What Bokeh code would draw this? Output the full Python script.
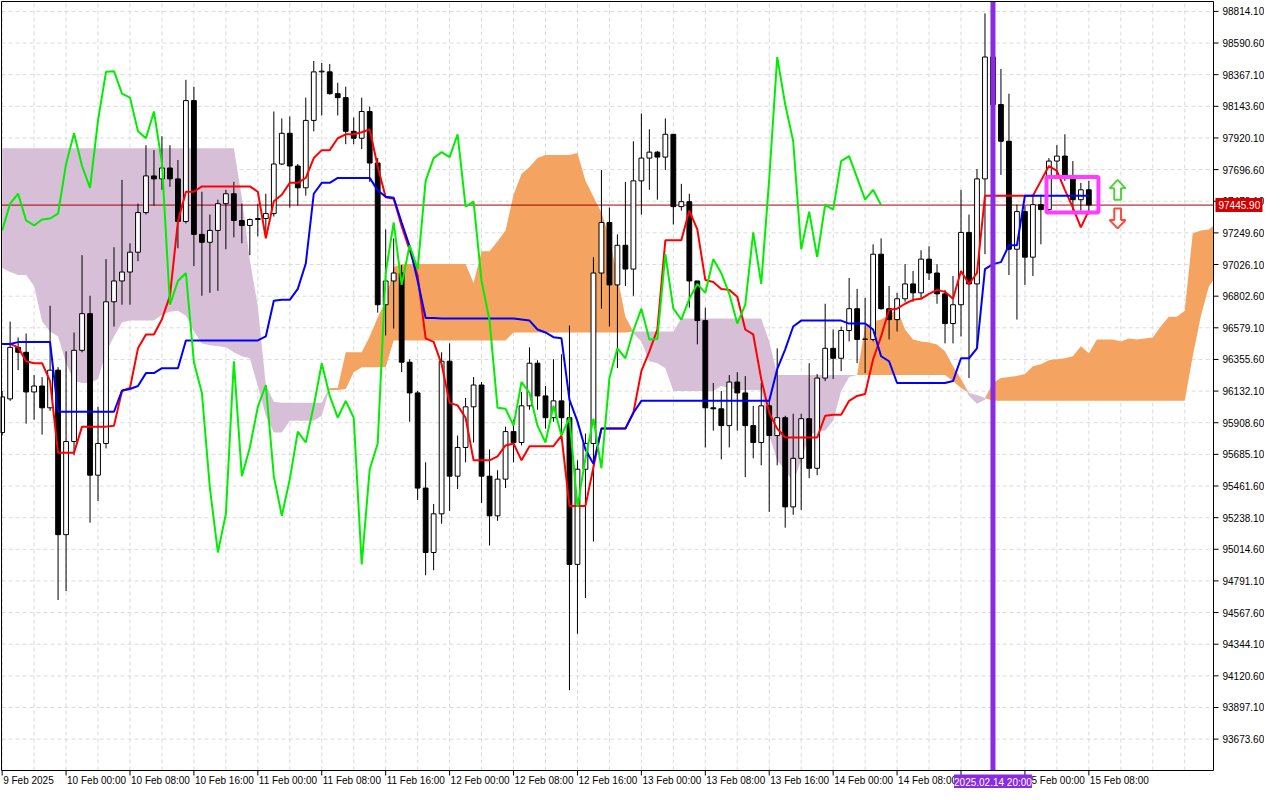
import numpy as np
from bokeh.plotting import figure
from bokeh.models import Range1d
from bokeh.core.properties import value
from bokeh.embed import file_html
from bokeh.resources import INLINE

# ---------------- data (BTCUSD H1, bar 0 = 9 Feb 2025 16:00) ----------------
opens = [95839, 96077, 96441, 96406, 96126, 96168, 96014, 96280, 95118, 95776,
         96420, 96679, 95538, 95762, 96763, 96910, 96973, 97113, 97393, 97652,
         97631, 97708, 97631, 97330, 98184, 97239, 97183, 97267, 97456, 97526,
         97337, 97302, 97344, 97351, 97386, 97736, 97953, 97722, 97568, 98044,
         98387, 98387, 98233, 98205, 97967, 97918, 98107, 97743, 96742, 96910,
         96966, 96336, 96119, 95447, 94992, 95265, 96343, 95531, 95734, 96021,
         96175, 95531, 95251, 95510, 95846, 95769, 96028, 96329, 96098, 95944,
         96063, 95944, 94908, 95580, 95762, 96966, 97323, 96882, 97162, 96994,
         97617, 97778, 97820, 97785, 97946, 97435, 97470, 96910, 96630, 96014,
         96007, 95888, 96196, 96119, 95888, 95769, 96028, 95818, 95944, 95314,
         95657, 95937, 95587, 96224, 96434, 96364, 96560, 96714, 96497, 96497,
         97099, 96714, 96637, 96784, 96889, 96826, 97064, 96966, 96819, 96609,
         96742, 97253, 96889, 97631, 98492, 98156, 97897, 97134, 97400, 97078,
         97449, 97414, 97757, 97792, 97638, 97484, 97554]
highs = [96133, 96623, 96511, 96539, 96245, 96231, 96735, 96301, 96413, 96546,
         97092, 96805, 96021, 97064, 97148, 97624, 97176, 97456, 97869, 97834,
         97932, 97869, 97764, 98331, 98282, 97540, 97379, 97484, 97554, 97610,
         97456, 97351, 97456, 97526, 98107, 98058, 98072, 97736, 98205, 98464,
         98450, 98443, 98310, 98282, 98065, 98205, 98142, 97778, 97274, 97211,
         97022, 96357, 96133, 95629, 95335, 96406, 96469, 95818, 96084, 96231,
         96196, 95720, 95573, 95881, 95930, 96126, 96441, 96350, 96168, 96357,
         96392, 96595, 95643, 95832, 97078, 97694, 97428, 97239, 97610, 97897,
         98093, 97981, 97827, 98058, 97946, 97596, 97526, 96910, 96721, 96189,
         96133, 96245, 96266, 96238, 96028, 96189, 96063, 96434, 95958, 95972,
         95972, 96329, 96252, 96749, 96567, 96588, 96931, 96854, 96791, 97169,
         97211, 96875, 96826, 97029, 96980, 97127, 97155, 97029, 96847, 96945,
         97554, 97379, 97701, 98800, 98688, 98408, 98233, 97449, 97442, 97519,
         97519, 97778, 97869, 97946, 97757, 97603, 97617]
lows = [95818, 96063, 96280, 95902, 95930, 95825, 95993, 94656, 94719, 95678,
        96406, 95202, 95356, 95727, 96588, 96742, 96742, 97050, 97379, 97442,
        97554, 97575, 97141, 97316, 97015, 96805, 96826, 96840, 97134, 97218,
        97176, 97092, 97225, 97232, 97365, 97729, 97428, 97442, 97512, 97967,
        98079, 98226, 98079, 97876, 97876, 97841, 97610, 96686, 96525, 96574,
        96266, 95916, 95363, 94831, 94866, 95195, 95286, 95440, 95629, 95769,
        95342, 95041, 95216, 95447, 95629, 95748, 96000, 96000, 95867, 95916,
        95790, 94019, 94418, 94670, 95069, 96714, 96588, 96294, 96875, 96805,
        97379, 97554, 97484, 97694, 97309, 97407, 96721, 96462, 95734, 95853,
        95650, 95734, 95853, 95524, 95657, 95608, 95279, 95608, 95167, 95258,
        95293, 95517, 95538, 96203, 96217, 96273, 96483, 96329, 96259, 96483,
        96707, 96497, 96553, 96763, 96763, 96784, 96917, 96749, 96469, 96469,
        96518, 96224, 96434, 97099, 98128, 97659, 96952, 96637, 96882, 96945,
        97169, 97400, 97652, 97617, 97407, 97407, 97379]
closes = [96091, 96441, 96406, 96126, 96168, 96014, 96280, 95118, 95776, 96420,
          96679, 95538, 95762, 96763, 96910, 96973, 97113, 97393, 97652, 97631,
          97708, 97631, 97330, 98184, 97239, 97183, 97267, 97456, 97526, 97337,
          97302, 97344, 97351, 97386, 97736, 97953, 97722, 97568, 98044, 98387,
          98392, 98233, 98205, 97967, 97918, 98107, 97743, 96742, 96910, 96966,
          96336, 96119, 95447, 94992, 95265, 96343, 95531, 95734, 96021, 96175,
          95531, 95251, 95510, 95846, 95769, 96028, 96329, 96098, 95944, 96063,
          95944, 94908, 95580, 95762, 96966, 97323, 96882, 97162, 96994, 97617,
          97778, 97820, 97785, 97946, 97435, 97470, 96910, 96630, 96014, 96007,
          95888, 96196, 96119, 95888, 95769, 96028, 95818, 95944, 95314, 95657,
          95937, 95587, 96224, 96434, 96364, 96560, 96714, 96497, 96500, 97099,
          96714, 96637, 96784, 96889, 96826, 97064, 96966, 96819, 96609, 96742,
          97253, 96889, 97631, 98492, 98156, 97897, 97134, 97400, 97078, 97449,
          97414, 97757, 97792, 97638, 97484, 97554, 97445.9]

tenkan = [96465, 96465, 96441, 96343, 96329, 96329, 96203, 95696, 95696, 95696,
          95881, 95881, 95881, 95881, 95888, 96133, 96154, 96434, 96532, 96532,
          96640, 96805, 97330, 97540, 97540, 97578, 97578, 97578, 97578, 97578,
          97578, 97578, 97540, 97211, 97473, 97519, 97603, 97603, 97638, 97778,
          97834, 97834, 97918, 97946, 97946, 97960, 97981, 97718, 97501, 97491,
          97297, 97129, 96948, 96504, 96480, 96322, 96049, 96031, 95944, 95643,
          95643, 95643, 95671, 95748, 95762, 95643, 95743, 95743, 95743, 95743,
          95818, 95321, 95321, 95321, 95594, 95867, 95867, 95867, 95867, 95979,
          96273, 96413, 96567, 97197, 97197, 97197, 97407, 97274, 96917, 96903,
          96854, 96847, 96798, 96567, 96532, 96217, 95979, 95867, 95804, 95804,
          95804, 95804, 95804, 95958, 95965, 95965, 96063, 96098, 96112, 96357,
          96518, 96707, 96714, 96749, 96777, 96784, 96819, 96847, 96833, 96784,
          96980, 96889, 96966, 97512, 97512, 97512, 97512, 97512, 97512, 97512,
          97617, 97722, 97687, 97554, 97428, 97288, 97407]
kijun = [96465, 96465, 96478, 96478, 96478, 96478, 96478, 95986, 95986, 95986,
         95986, 95986, 95986, 95986, 95986, 96136, 96147, 96168, 96259, 96259,
         96294, 96294, 96294, 96490, 96490, 96490, 96490, 96490, 96490, 96490,
         96490, 96490, 96490, 96518, 96770, 96777, 96777, 96854, 97033, 97526,
         97603, 97603, 97638, 97638, 97638, 97638, 97638, 97550, 97505, 97498,
         97323, 97155, 96912, 96648, 96648, 96644, 96644, 96644, 96644, 96644,
         96644, 96644, 96644, 96644, 96644, 96637, 96630, 96567, 96546, 96513,
         96505, 96070, 95918, 95720, 95618, 95867, 95867, 95867, 95867, 95979,
         96063, 96063, 96063, 96063, 96063, 96063, 96063, 96063, 96063, 96063,
         96063, 96063, 96063, 96063, 96063, 96063, 96063, 96287, 96427, 96588,
         96630, 96630, 96630, 96630, 96630, 96630, 96609, 96609, 96609, 96567,
         96378, 96343, 96189, 96189, 96189, 96189, 96189, 96189, 96189, 96203,
         96364, 96364, 96434, 96994, 97029, 97043, 97162, 97162, 97512, 97512,
         97512, 97512, 97512, 97512, 97512, 97512, 97512]
span_a = [97001, 96973, 96952, 96952, 96875, 96623, 96553, 96518, 96329, 96203,
          96189, 96189, 96217, 96406, 96518, 96616, 96630, 96630, 96630, 96630,
          96672, 96693, 96700, 96665, 96553, 96469, 96455, 96448, 96441, 96406,
          96378, 96364, 96168, 95958, 95839, 95839, 95923, 95923, 95923, 95923,
          95958, 96154, 96154, 96406, 96406, 96406, 96518, 96651, 96770, 97008,
          97029, 97029, 97029, 97029, 97029, 97029, 97029, 97029, 97029, 96896,
          97120, 97120, 97190, 97267, 97519, 97666, 97715, 97778, 97799, 97799,
          97799, 97799, 97813, 97617, 97505, 97393, 97218, 96938, 96658, 96539,
          96483, 96343, 96329, 96294, 96133, 96133, 96133, 96133, 96133, 96133,
          96168, 96154, 96140, 96140, 96140, 96140, 95818, 95643, 95573, 95489,
          95643, 95818, 95846, 95853, 95923, 96133, 96231, 96245, 96588, 96623,
          96637, 96672, 96714, 96567, 96497, 96483, 96476, 96462, 96413, 96308,
          96217, 96098, 96042, 96070, 96189, 96224, 96231, 96238, 96252, 96308,
          96322, 96350, 96357, 96364, 96378, 96448, 96399, 96497, 96497, 96497,
          96483, 96504, 96497, 96504, 96511, 96588, 96658, 96658, 96700, 97246,
          97267, 97274, 97316, 97344]
span_b = [97848, 97848, 97848, 97848, 97848, 97848, 97848, 97848, 97848, 97848,
          97848, 97848, 97848, 97848, 97848, 97848, 97848, 97848, 97848, 97848,
          97848, 97848, 97848, 97848, 97848, 97848, 97848, 97848, 97848, 97848,
          97498, 97057, 96728, 96175, 96056, 96049, 96049, 96049, 96049, 96049,
          96049, 96140, 96140, 96147, 96266, 96301, 96301, 96301, 96301, 96490,
          96490, 96490, 96490, 96490, 96490, 96490, 96490, 96490, 96490, 96490,
          96490, 96490, 96490, 96490, 96546, 96546, 96546, 96546, 96546, 96546,
          96546, 96546, 96546, 96546, 96546, 96546, 96546, 96546, 96546, 96553,
          96553, 96553, 96553, 96553, 96553, 96644, 96644, 96644, 96644, 96644,
          96644, 96644, 96644, 96644, 96644, 96644, 96483, 96245, 96245, 96245,
          96245, 96245, 96245, 96245, 96245, 96245, 96245, 96245, 96245, 96245,
          96245, 96245, 96245, 96245, 96245, 96245, 96245, 96245, 96245, 96203,
          96154, 96119, 96105, 96084, 96063, 96063, 96063, 96063, 96063, 96063,
          96063, 96063, 96063, 96063, 96063, 96063, 96063, 96063, 96063, 96063,
          96063, 96063, 96063, 96063, 96063, 96063, 96063, 96063, 96063, 96378,
          96658, 96868, 96952, 96987]

price_ticks = [93673.60, 93897.10, 94120.60, 94344.10, 94567.60, 94791.10,
               95014.60, 95238.10, 95461.60, 95685.10, 95908.60, 96132.10,
               96355.60, 96579.10, 96802.60, 97026.10, 97249.60, 97473.10,
               97696.60, 97920.10, 98143.60, 98367.10, 98590.60, 98814.10]
time_ticks = [0, 8, 16, 24, 32, 40, 48, 56, 64, 72, 80, 88, 96, 104, 112, 120, 128, 136]
time_labels = ["9 Feb 2025", "10 Feb 00:00", "10 Feb 08:00", "10 Feb 16:00",
               "11 Feb 00:00", "11 Feb 08:00", "11 Feb 16:00", "12 Feb 00:00",
               "12 Feb 08:00", "12 Feb 16:00", "13 Feb 00:00", "13 Feb 08:00",
               "13 Feb 16:00", "14 Feb 00:00", "14 Feb 08:00", "14 Feb 16:00",
               "15 Feb 00:00", "15 Feb 08:00"]
event_bar = 124
event_text = "2025.02.14 20:00"
box_bars = [130.7, 137.2]
box_prices = [97393, 97645]
up_arrow_prices = [97484, 97624]
down_arrow_prices = [97421, 97281]
chikou_shift = 26

# ---------------- layout (chart area + hand-drawn MT4 style scales) ----------------
FONT = "Liberation Sans"
FS = "10px"
CW, CH = 1264, 788                      # canvas
CL, CR, CT, CB = 1, 1213, 1, 770        # chart area in canvas px
bar_lo, bar_hi = -0.08, 151.6
price_lo, price_hi = 93452, 98884
ppb = (CR - CL) / (bar_hi - bar_lo)      # px per bar
ppp = (CB - CT) / (price_hi - price_lo)  # px per price unit
dx, dy = 1 / ppb, 1 / ppp
x_range = Range1d(bar_lo - CL * dx, bar_hi + (CW - CR) * dx)
y_range = Range1d(price_lo - (CH - CB) * dy, price_hi + CT * dy)

p = figure(frame_width=CW, frame_height=CH, x_range=x_range, y_range=y_range,
           x_axis_location=None, y_axis_location=None,
           output_backend="svg", toolbar_location=None,
           min_border=0, background_fill_color="white", border_fill_color="white")
p.outline_line_color = None
p.grid.visible = False

o = np.array(opens, float); h = np.array(highs, float)
l = np.array(lows, float); c = np.array(closes, float)
bars = np.arange(len(c))

# grid
gx = [g for g in range(0, 156, 4) if bar_lo < g < bar_hi]
p.segment(x0=gx, y0=[price_lo] * len(gx), x1=gx, y1=[price_hi] * len(gx),
          line_color="#dadada", line_dash="4 3", line_width=1)
p.segment(x0=[bar_lo] * len(price_ticks), y0=price_ticks, x1=[bar_hi] * len(price_ticks),
          y1=price_ticks, line_color="#dadada", line_dash="4 3", line_width=1)

# cloud
a = np.array(span_a, float); b = np.array(span_b, float)
cx = np.arange(len(a))
top = np.maximum(a, b)
p.varea(x=cx, y1=b, y2=top, fill_color="#f4a460")
p.varea(x=cx, y1=a, y2=top, fill_color="#d8bfd8")

# current price line
p.segment(x0=[bar_lo], y0=[c[-1]], x1=[bar_hi], y1=[c[-1]], line_color="#a00000", line_width=1)

# candles
up = c >= o
p.segment(x0=bars, y0=h, x1=bars, y1=l, line_color="black", line_width=1)
p.vbar(x=bars[up], width=0.6, top=c[up], bottom=o[up],
       fill_color="white", line_color="black", line_width=1)
p.vbar(x=bars[~up], width=0.6, top=o[~up], bottom=c[~up],
       fill_color="black", line_color="black", line_width=1)

# ichimoku lines
p.line(bars, tenkan, line_color="#ff0000", line_width=2)
p.line(bars, kijun, line_color="#0000ff", line_width=2)
p.line(bars[chikou_shift:] - chikou_shift, c[chikou_shift:], line_color="#00ee00", line_width=2)

# event vertical line
p.segment(x0=[event_bar], y0=[price_lo], x1=[event_bar], y1=[price_hi],
          line_color="#8a2be2", line_width=5)

# magenta box
p.quad(left=[box_bars[0]], right=[box_bars[1]], bottom=[box_prices[0]], top=[box_prices[1]],
       fill_alpha=0, line_color="#ff3cff", line_width=4)

# arrows
ax0 = box_bars[1] + 2.4
def arrow(tip, base, head):
    return ([ax0, ax0 + 1.0, ax0 + 0.42, ax0 + 0.42, ax0 - 0.42, ax0 - 0.42, ax0 - 1.0],
            [tip, head, head, base, base, head, head])
ub, ut = up_arrow_prices
xs, ys = arrow(ut, ub, ut - 60)
p.patch(xs, ys, fill_color="white", line_color="#55d040", line_width=2)
dt, db = down_arrow_prices
xs, ys = arrow(db, dt, db + 60)
p.patch(xs, ys, fill_color="white", line_color="#ff4a3a", line_width=2)

# mask outside chart area (cloud runs past the right edge)
p.quad(left=[bar_hi], right=[x_range.end], bottom=[y_range.start], top=[y_range.end],
       fill_color="white", line_color=None)
p.quad(left=[x_range.start], right=[x_range.end], bottom=[y_range.start], top=[price_lo],
       fill_color="white", line_color=None)

# chart border
p.quad(left=[bar_lo], right=[bar_hi], bottom=[price_lo], top=[price_hi],
       fill_alpha=0, line_color="black", line_width=1)

# price scale (right)
n = len(price_ticks)
p.segment(x0=[bar_hi] * n, y0=price_ticks, x1=[bar_hi + 5 * dx] * n, y1=price_ticks,
          line_color="black", line_width=1)
p.text(x=[bar_hi + 9 * dx] * n, y=price_ticks, text=[f"{t:.2f}" for t in price_ticks],
       text_font=value(FONT), text_font_size=FS, text_color="black",
       text_align="left", text_baseline="middle")

# time scale (bottom)
m = len(time_ticks)
p.segment(x0=time_ticks, y0=[price_lo] * m, x1=time_ticks, y1=[price_lo - 5 * dy] * m,
          line_color="black", line_width=1)
p.text(x=[t + 1 * dx for t in time_ticks], y=[price_lo - 4 * dy] * m, text=time_labels,
       text_font=value(FONT), text_font_size=FS, text_color="black",
       text_align="left", text_baseline="top")

# current price tag
p.quad(left=[bar_hi + 2 * dx], right=[bar_hi + 49 * dx],
       bottom=[c[-1] - 7 * dy], top=[c[-1] + 7 * dy], fill_color="#d20000", line_color=None)
p.text(x=[bar_hi + 5 * dx], y=[c[-1]], text=[f"{c[-1]:.2f}"],
       text_font=value(FONT), text_font_size=FS, text_color="white",
       text_align="left", text_baseline="middle")

# event time tag
p.quad(left=[event_bar - 39 * dx], right=[event_bar + 39 * dx],
       bottom=[price_lo - 19 * dy], top=[price_lo - 4 * dy], fill_color="#8a2be2", line_color=None)
p.text(x=[event_bar], y=[price_lo - 11.5 * dy], text=[event_text],
       text_font=value(FONT), text_font_size=FS, text_color="white",
       text_align="center", text_baseline="middle")

open("out.html", "w").write(file_html(p, INLINE))
